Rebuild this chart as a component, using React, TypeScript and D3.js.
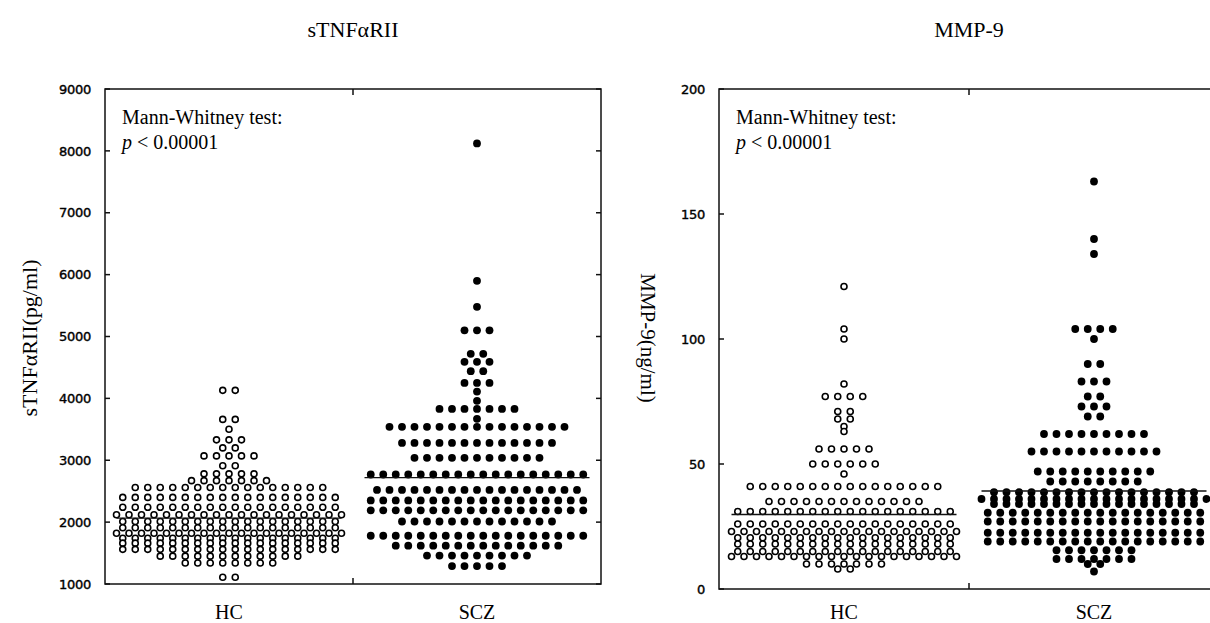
import React from "react"
import * as d3 from "d3"

const categories = ["HC", "SCZ"]

// each row: [value, number of dots on that row]
const tnfHC: [number, number][] = [
  [4130, 2], [3660, 2], [3500, 1], [3330, 3], [3200, 2], [3070, 5], [2910, 2],
  [2780, 5], [2670, 7], [2560, 16], [2400, 18], [2240, 18], [2120, 19], [2010, 18],
  [1910, 18], [1820, 19], [1740, 18], [1660, 18], [1560, 18], [1450, 12], [1340, 8],
  [1110, 2],
]
const tnfSCZ: [number, number][] = [
  [8120, 1], [5900, 1], [5480, 1], [5100, 3], [4720, 2], [4590, 3], [4440, 2],
  [4250, 3], [4110, 1], [3960, 1], [3830, 7], [3670, 1], [3540, 15], [3280, 13],
  [3040, 11], [2770, 18], [2520, 17], [2350, 18], [2190, 18], [2010, 13], [1780, 18],
  [1620, 14], [1460, 9], [1290, 5],
]
const mmpHC: [number, number][] = [
  [121, 1], [104, 1], [100, 1], [82, 1], [77, 4], [71, 2], [68, 2], [65, 1], [63, 1],
  [56, 5], [50, 6], [46, 1], [41, 16], [35, 13], [31, 18], [26, 18], [23, 19],
  [20.5, 18], [18, 18], [15, 18], [13, 19], [10, 7], [8, 2],
]
const mmpSCZ: [number, number][] = [
  [163, 1], [140, 1], [134, 1], [104, 4], [100, 1], [90, 2], [83, 3], [77, 2], [73, 3],
  [69, 2], [62, 9], [55, 11], [47, 10], [43, 8], [38.7, 17], [36, 19], [34, 17],
  [30.5, 18], [27, 18], [22.5, 18], [19, 18], [15.5, 7], [12, 7], [10, 2], [7, 1],
]

const tnfTicks = [1000, 2000, 3000, 4000, 5000, 6000, 7000, 8000, 9000]
const mmpTicks = [0, 50, 100, 150, 200]
const tnfMedians = [2065, 2720]
const mmpMedians = [29.8, 39.2]

const SERIF = '"Liberation Serif", "Times New Roman", serif'
const SANS = '"DejaVu Sans", Arial, sans-serif'
const STEP = 12.5

type Rows = [number, number][]

function Panel({ x0, x1, y0, y1, domain, ticks, groups, medians, title, yLabel, labelX, labelRot, labelSize }: {
  x0: number, x1: number, y0: number, y1: number, domain: [number, number], ticks: number[],
  groups: Rows[], medians: number[], title: string, yLabel: string, labelX: number, labelRot: number,
  labelSize: number
}) {
  const x = d3.scaleBand().domain(categories).range([x0, x1])
  const y = d3.scaleLinear().domain(domain).range([y1, y0])
  const mid = x0 + (x1 - x0) / 2
  const cx = (c: string) => (x(c) as number) + x.bandwidth() / 2

  return (
    <g>
      <text x={mid} y={37} textAnchor="middle" fontFamily={SERIF} fontSize={22}>{title}</text>
      <text transform={`translate(${labelX},338) rotate(${labelRot})`} textAnchor="middle"
        fontFamily={SERIF} fontSize={labelSize}>{yLabel}</text>

      {/* frame */}
      <rect x={x0} y={y0} width={x1 - x0} height={y1 - y0} fill="none" stroke="#111" strokeWidth={1.5} />
      {ticks.map(t => (
        <g key={t}>
          <line x1={x0} x2={x0 + 5} y1={y(t)} y2={y(t)} stroke="#111" strokeWidth={1.5} />
          <line x1={x1 - 5} x2={x1} y1={y(t)} y2={y(t)} stroke="#111" strokeWidth={1.5} />
          <text x={x0 - 14} y={y(t)} dy="0.36em" textAnchor="end" fontFamily={SANS} fontSize={13}
            letterSpacing={-0.3} stroke="#000" strokeWidth={0.4}>{t}</text>
        </g>
      ))}
      <line x1={mid} x2={mid} y1={y0} y2={y0 + 6} stroke="#111" strokeWidth={1.5} />
      <line x1={mid} x2={mid} y1={y1 - 6} y2={y1} stroke="#111" strokeWidth={1.5} />

      {categories.map(c => (
        <text key={c} x={cx(c)} y={619} textAnchor="middle" fontFamily={SERIF} fontSize={20}>{c}</text>
      ))}

      <text x={x0 + 17} y={124} fontFamily={SERIF} fontSize={20}>Mann-Whitney test:</text>
      <text x={x0 + 17} y={149} fontFamily={SERIF} fontSize={20}>
        <tspan fontStyle="italic">p</tspan> &lt; 0.00001
      </text>

      {groups.map((rows, gi) => {
        const c = cx(categories[gi])
        return (
          <g key={gi}>
            {rows.flatMap(([v, n], ri) =>
              d3.range(n).map(i => (
                <circle key={ri + "-" + i} cx={c + (i - (n - 1) / 2) * STEP} cy={y(v)}
                  r={gi === 0 ? 3 : 3.9}
                  fill={gi === 0 ? "#fff" : "#000"}
                  stroke={gi === 0 ? "#000" : "none"} strokeWidth={1.6} />
              ))
            )}
            <line x1={c - 9 * STEP} x2={c + 9 * STEP} y1={y(medians[gi])} y2={y(medians[gi])}
              stroke="#111" strokeWidth={1.3} />
          </g>
        )
      })}
    </g>
  )
}

export default function App() {
  return (
    <svg width={1210} height={623} style={{ position: "absolute", left: 0, top: 0, background: "#fff" }}>
      <Panel x0={105} x1={601} y0={89} y1={584} domain={[1000, 9000]} ticks={tnfTicks}
        groups={[tnfHC, tnfSCZ]} medians={tnfMedians} title="sTNFαRII" yLabel="sTNFαRII(pg/ml)"
        labelX={37} labelRot={-90} labelSize={22} />
      <Panel x0={719} x1={1219} y0={89} y1={589} domain={[0, 200]} ticks={mmpTicks}
        groups={[mmpHC, mmpSCZ]} medians={mmpMedians} title="MMP-9" yLabel="MMP-9(ng/ml)"
        labelX={641} labelRot={90} labelSize={21} />
    </svg>
  )
}
